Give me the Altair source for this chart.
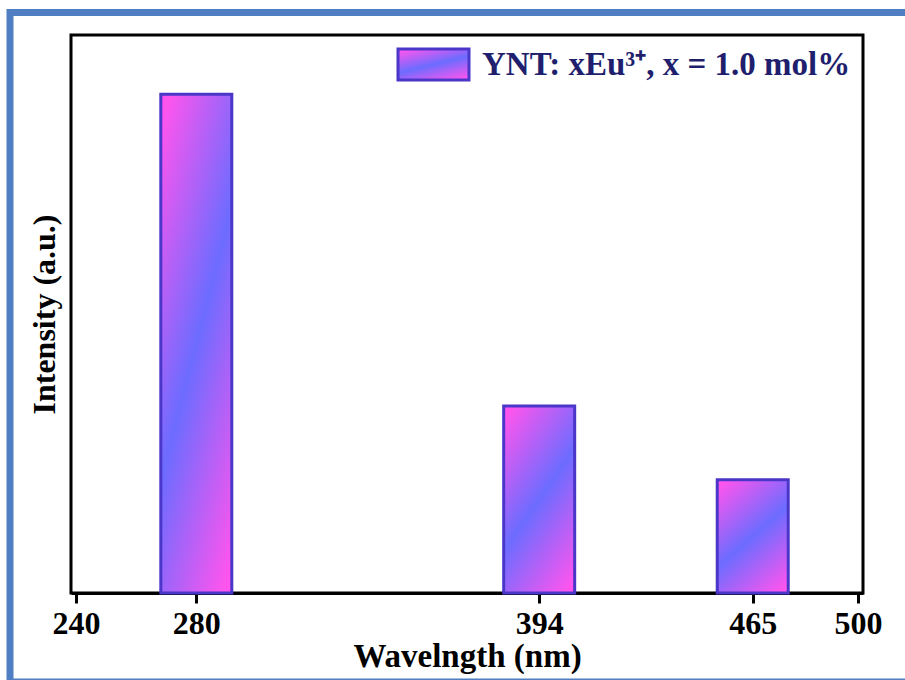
import altair as alt
import pandas as pd

wavelengths = [280, 394, 465]
intensities = [89.4, 33.5, 20.3]
tick_values = [240, 280, 394, 465, 500]
legend_label = ["YNT: xEu³⁺, x = 1.0 mol%"]

df = pd.DataFrame({"wavelength": wavelengths, "intensity": intensities})

grad = alt.Gradient(
    gradient="linear",
    stops=[
        alt.GradientStop(color="#ff55ee", offset=0),
        alt.GradientStop(color="#6c6cff", offset=0.5),
        alt.GradientStop(color="#ff55ee", offset=1),
    ],
    x1=0.2, y1=-0.05, x2=0.8, y2=1.05,
)

FONT = "Liberation Serif"

bars = alt.Chart(df).mark_bar(
    width=71, fill=grad, stroke="#4a36c8", strokeWidth=3
).encode(
    x=alt.X("wavelength:Q",
            scale=alt.Scale(domain=[240, 500], nice=False, zero=False),
            axis=alt.Axis(values=tick_values, title="Wavelngth (nm)", grid=False,
                          format="d", labelFont=FONT, labelFontSize=32,
                          labelFontWeight="bold", labelColor="black",
                          titleFont=FONT, titleFontSize=33, titleFontWeight="bold",
                          titleColor="black", tickColor="black", tickWidth=3,
                          tickSize=10, domainColor="black", domainWidth=3,
                          labelPadding=5, titlePadding=1)),
    y=alt.Y("intensity:Q",
            scale=alt.Scale(domain=[0, 100], nice=False),
            axis=alt.Axis(title="Intensity (a.u.)", labels=False, ticks=False,
                          grid=False, domain=False, titleFont=FONT,
                          titleFontSize=32, titleFontWeight="bold",
                          titleColor="black", titlePadding=10)),
)

leg_df = pd.DataFrame({"label": legend_label})

leg_swatch = alt.Chart(leg_df).mark_rect(
    fill=grad, stroke="#4a36c8", strokeWidth=3
).encode(
    x=alt.value(327), x2=alt.value(398), y=alt.value(14), y2=alt.value(45)
)

leg_text = alt.Chart(leg_df).mark_text(
    align="left", baseline="middle", font=FONT, fontSize=33,
    fontWeight="bold", color="#1f1f6e"
).encode(
    x=alt.value(411), y=alt.value(30), text="label:N"
)

border = alt.Chart(leg_df).mark_rect(
    fill=None, stroke="#4f7fc2", strokeWidth=7
).encode(
    x=alt.value(-61), x2=alt.value(900), y=alt.value(-22.5), y2=alt.value(647)
)

chart = alt.layer(bars, leg_swatch, leg_text, border).properties(
    width=792, height=558,
    autosize=alt.AutoSizeParams(type="none"),
    padding={"left": 71, "top": 35, "right": 42, "bottom": 87},
    background="white",
).configure_view(stroke="black", strokeWidth=3)

chart.save("out.html", embed_options={"renderer": "svg", "actions": False})
